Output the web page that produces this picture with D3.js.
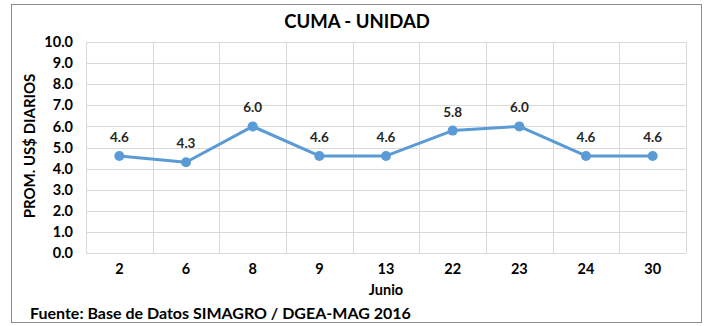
<!DOCTYPE html>
<html>
<head>
<meta charset="utf-8">
<script src="https://cdn.jsdelivr.net/npm/d3@7/dist/d3.min.js"></script>
<style>
  html, body { margin: 0; padding: 0; background: #fff; }
  svg { display: block; font-family: Lato, "Open Sans", sans-serif; }
</style>
</head>
<body>
<svg id="chart" width="706" height="326"></svg>
<script>
// Daily average price, Junio
const days = ["2", "6", "8", "9", "13", "22", "23", "24", "30"];
const prices = [4.6, 4.3, 6.0, 4.6, 4.6, 5.8, 6.0, 4.6, 4.6];
const yTicks = [0, 1, 2, 3, 4, 5, 6, 7, 8, 9, 10];

const title = "CUMA - UNIDAD";
const yTitle = "PROM. US$ DIARIOS";
const xTitle = "Junio";
const source = "Fuente: Base de Datos SIMAGRO / DGEA-MAG 2016";

const svg = d3.select("#chart");
const plot = { left: 86, right: 686, top: 42, bottom: 253 };

// outer frame
svg.append("rect")
  .attr("x", 11.5).attr("y", 4.5)
  .attr("width", 690).attr("height", 318)
  .attr("fill", "#fff").attr("stroke", "#8c8c8c").attr("stroke-width", 1);

const x = d3.scaleBand().domain(days).range([plot.left, plot.right]);
const y = d3.scaleLinear().domain([0, 10]).range([plot.bottom, plot.top]);

// horizontal gridlines
svg.append("g")
  .selectAll("line").data(yTicks).join("line")
  .attr("x1", plot.left).attr("x2", plot.right)
  .attr("y1", d => Math.round(y(d)) + 0.5).attr("y2", d => Math.round(y(d)) + 0.5)
  .attr("stroke", "#d9d9d9").attr("stroke-width", 1);

// vertical gridlines at category boundaries
const bounds = days.map(d => x(d)).concat([plot.right]);
svg.append("g")
  .selectAll("line").data(bounds).join("line")
  .attr("x1", d => Math.round(d) + 0.5).attr("x2", d => Math.round(d) + 0.5)
  .attr("y1", plot.top).attr("y2", plot.bottom)
  .attr("stroke", "#d9d9d9").attr("stroke-width", 1);

// y axis labels
const yAxis = d3.axisLeft(y).tickValues(yTicks).tickFormat(d3.format(".1f")).tickSize(0).tickPadding(13);
const gy = svg.append("g").attr("transform", `translate(${plot.left},0)`).call(yAxis);
gy.select(".domain").remove();
gy.selectAll("text")
  .attr("font-family", "Lato, sans-serif")
  .attr("font-weight", "bold").attr("font-size", 14.5).attr("fill", "#000");

// x axis labels
const xAxis = d3.axisBottom(x).tickSize(0).tickPadding(11);
const gx = svg.append("g").attr("transform", `translate(0,${plot.bottom})`).call(xAxis);
gx.select(".domain").remove();
gx.selectAll("text")
  .attr("font-family", "Lato, sans-serif")
  .attr("font-weight", "bold").attr("font-size", 14.5).attr("fill", "#000");

// series line
const cx = d => x(d) + x.bandwidth() / 2;
const line = d3.line().x((d, i) => cx(days[i])).y(d => y(d));
svg.append("path")
  .datum(prices)
  .attr("d", line)
  .attr("fill", "none").attr("stroke", "#5b9bd5").attr("stroke-width", 3)
  .attr("stroke-linejoin", "round");

svg.append("g")
  .selectAll("circle").data(prices).join("circle")
  .attr("cx", (d, i) => cx(days[i])).attr("cy", d => y(d))
  .attr("r", 5).attr("fill", "#5b9bd5");

// value labels
svg.append("g")
  .selectAll("text").data(prices).join("text")
  .attr("x", (d, i) => cx(days[i])).attr("y", d => y(d) - 14)
  .attr("text-anchor", "middle")
  .attr("font-weight", "bold").attr("font-size", 13.5).attr("fill", "#262626")
  .text(d => d3.format(".1f")(d));

// titles
svg.append("text")
  .attr("x", 357).attr("y", 28).attr("text-anchor", "middle")
  .attr("font-weight", "bold").attr("font-size", 18.5).attr("fill", "#000")
  .text(title);

svg.append("text")
  .attr("transform", `translate(35,146) rotate(-90)`)
  .attr("text-anchor", "middle")
  .attr("font-weight", "bold").attr("font-size", 15).attr("fill", "#000")
  .text(yTitle);

svg.append("text")
  .attr("x", (plot.left + plot.right) / 2).attr("y", 295).attr("text-anchor", "middle")
  .attr("font-weight", "bold").attr("font-size", 14.5).attr("fill", "#000")
  .text(xTitle);

svg.append("text")
  .attr("x", 30).attr("y", 319)
  .attr("font-weight", "bold").attr("font-size", 16).attr("fill", "#000")
  .text(source);
</script>
</body>
</html>
